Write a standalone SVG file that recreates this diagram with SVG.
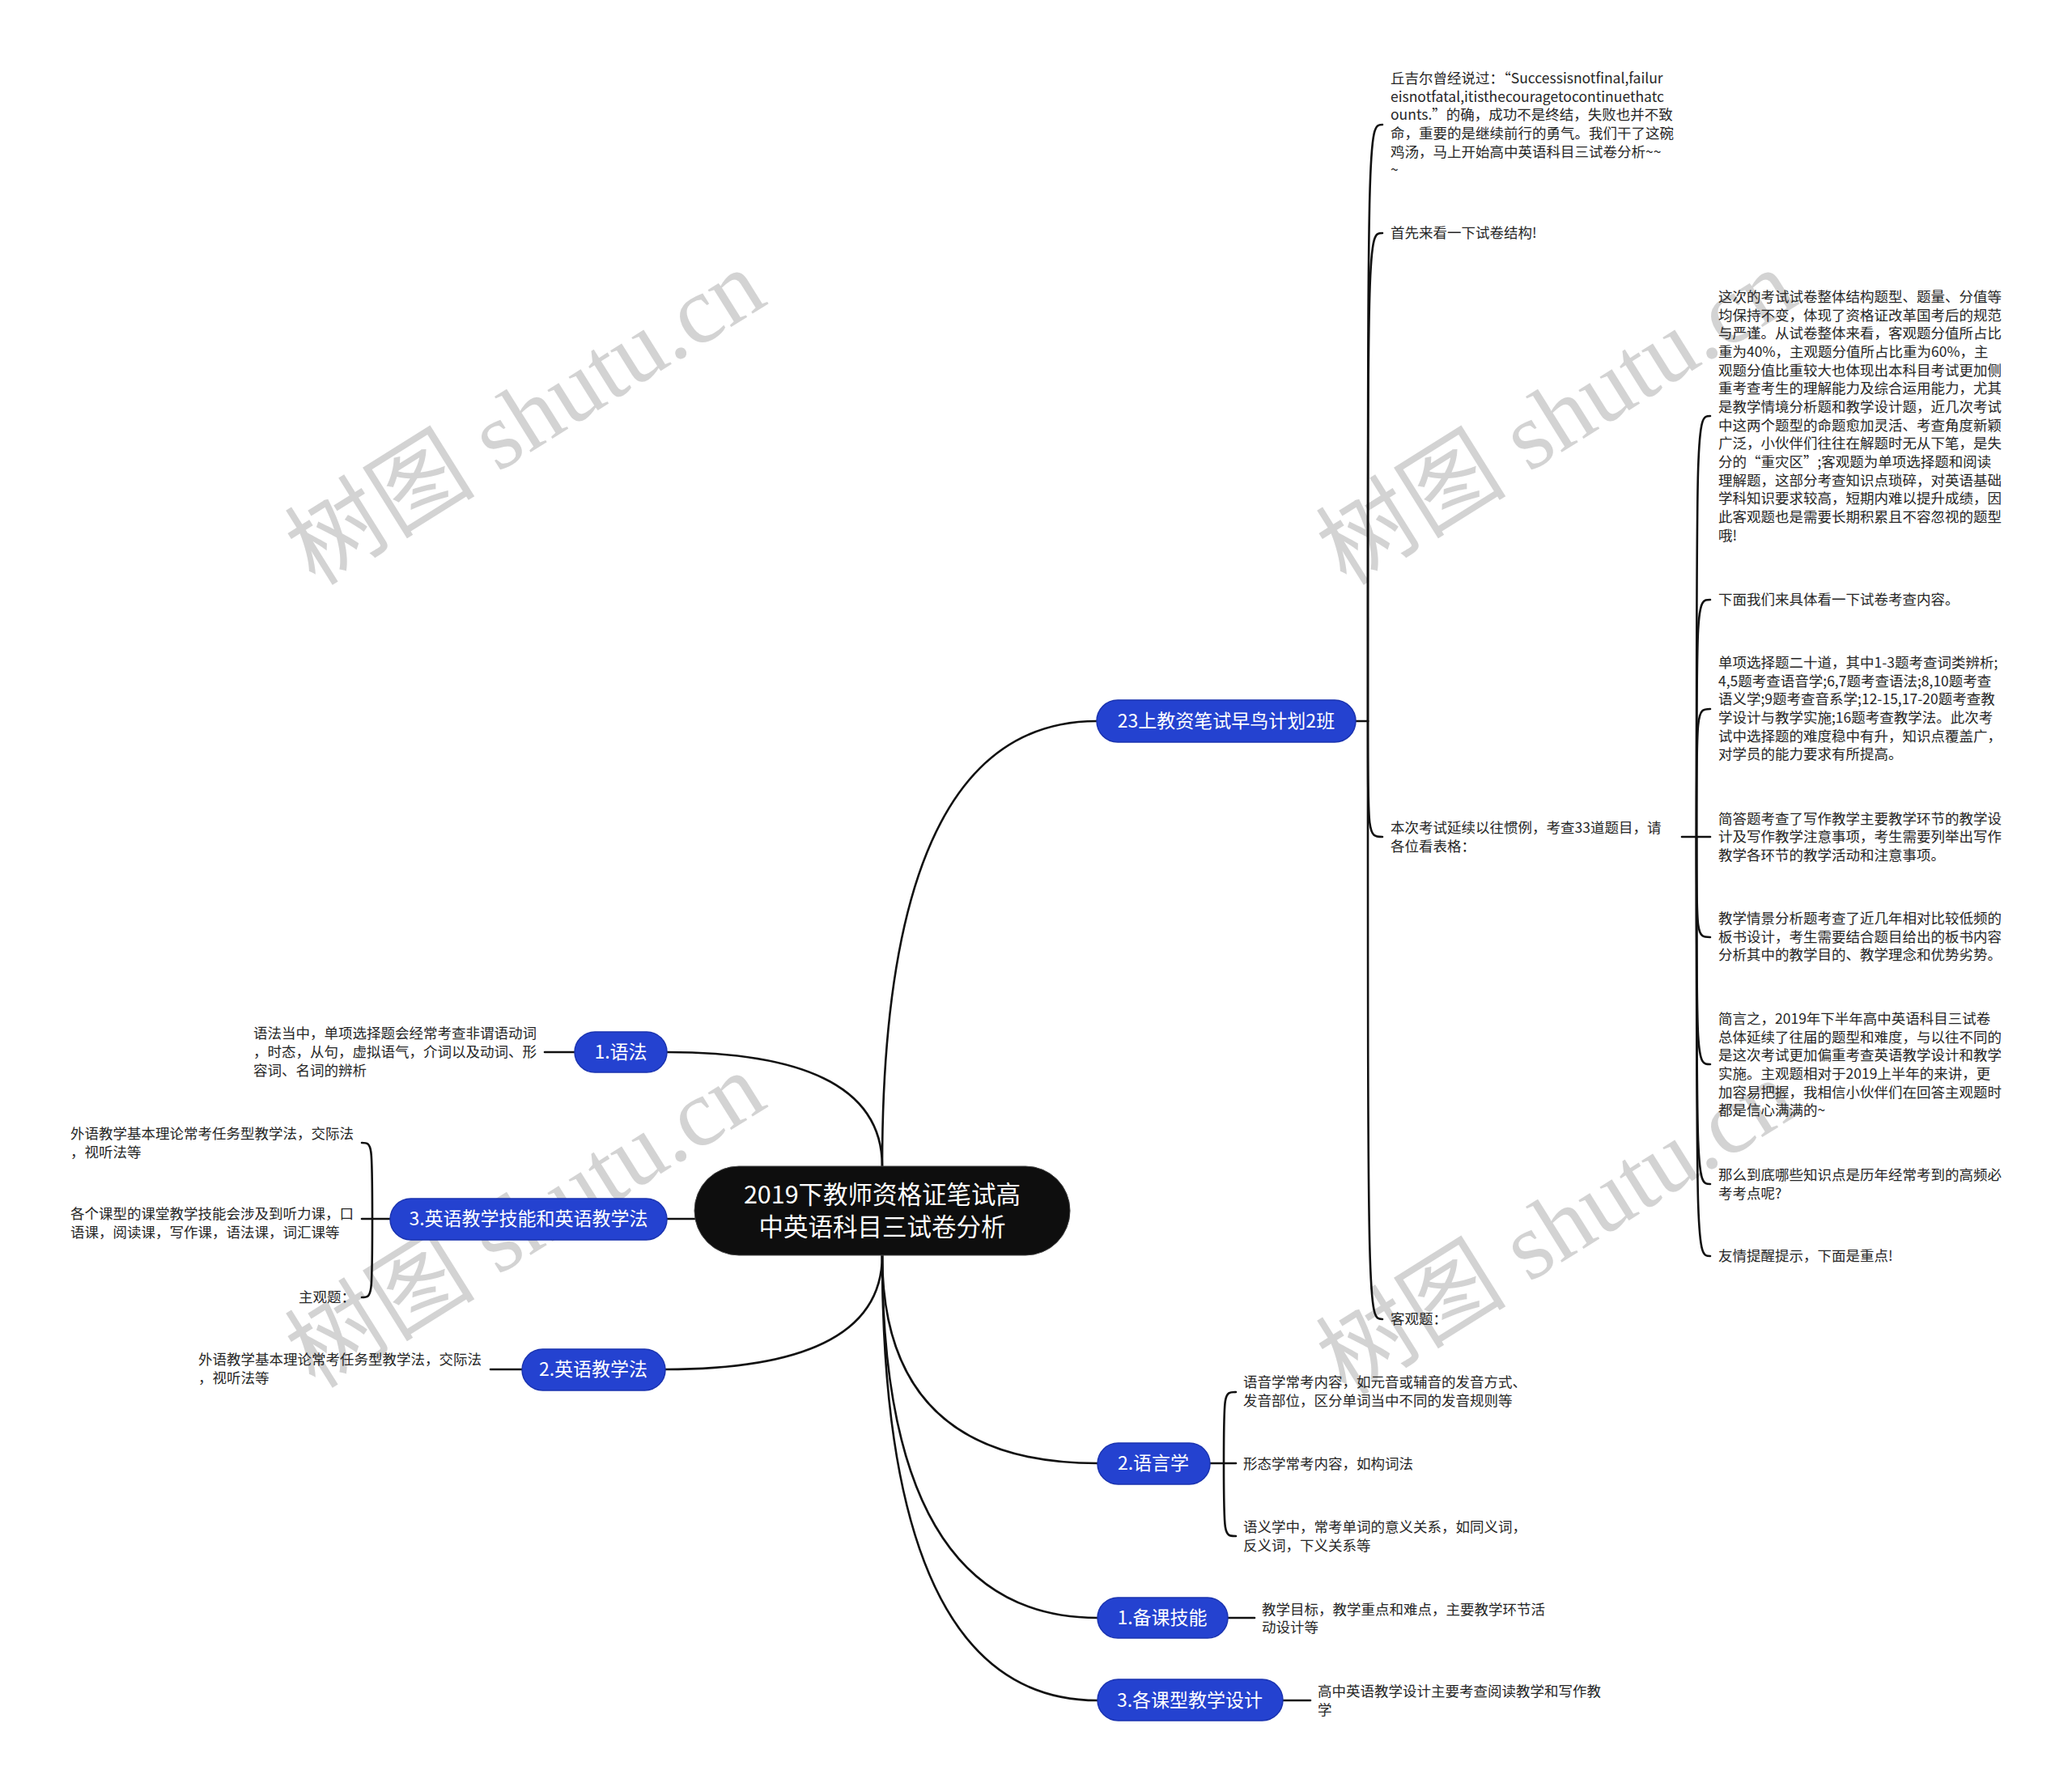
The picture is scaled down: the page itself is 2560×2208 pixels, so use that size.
<svg xmlns="http://www.w3.org/2000/svg" width="2560" height="2208" viewBox="0 0 2560 2208">
<style>
.wm{font-family:"Liberation Serif","Noto Sans CJK SC",serif;font-size:118px;fill:#c9c9c9;opacity:0.8;text-anchor:middle}
.t{font-family:"Noto Sans CJK SC","Noto Sans",sans-serif;font-size:17.5px;fill:#262626}
.n{font-family:"Noto Sans CJK SC","Noto Sans",sans-serif;font-size:23px;fill:#ffffff;text-anchor:middle}
.c{font-family:"Noto Sans CJK SC","Noto Sans",sans-serif;font-size:30.5px;fill:#ffffff;text-anchor:middle}
.box{fill:#2442d0;stroke:#1a33b0;stroke-width:1.5}
.root{fill:#0e0e0e;stroke:#444;stroke-width:1}
.ln{fill:none;stroke:#111;stroke-width:2.6;stroke-linecap:round}
</style>
<rect width="2560" height="2208" fill="#ffffff"/>
<g id="watermarks">
<text class="wm" x="648" y="556" transform="rotate(-32 648 514)">树图 shutu.cn</text>
<text class="wm" x="1922" y="556" transform="rotate(-32 1922 514)">树图 shutu.cn</text>
<text class="wm" x="648" y="1548" transform="rotate(-32 648 1506)">树图 shutu.cn</text>
<text class="wm" x="1922" y="1557" transform="rotate(-32 1922 1515)">树图 shutu.cn</text>
</g>
<g id="connectors">
<path class="ln" d="M1090 1496 V1441 Q1090 891 1355 891"/>
<path class="ln" d="M1090 1496 V1441 Q1090 1300 824 1300"/>
<path class="ln" d="M1090 1506 H824"/>
<path class="ln" d="M1090 1496 V1551 Q1090 1692 822 1692"/>
<path class="ln" d="M1090 1496 V1551 Q1090 1808 1356 1808"/>
<path class="ln" d="M1090 1496 V1551 Q1090 1999 1356 1999"/>
<path class="ln" d="M1090 1496 V1551 Q1090 2101 1356 2101"/>
<path class="ln" d="M710 1300 H673"/>
<path class="ln" d="M645 1692 H606"/>
<path class="ln" d="M1517 1999 H1550"/>
<path class="ln" d="M1585 2101 H1619"/>
<path class="ln" d="M1495 1808 H1527"/>
<path class="ln" d="M1512 1808 C1512 1720 1512 1720 1527 1720"/>
<path class="ln" d="M1512 1808 C1512 1898 1512 1898 1527 1898"/>
<path class="ln" d="M482 1506 H447"/>
<path class="ln" d="M460 1506 C460 1412 460 1412 447 1412"/>
<path class="ln" d="M460 1506 C460 1603 460 1603 447 1603"/>
<path class="ln" d="M1675 891 H1690"/>
<path class="ln" d="M1690 891 C1690 154 1690 154 1708 154"/>
<path class="ln" d="M1690 891 C1690 288 1690 288 1708 288"/>
<path class="ln" d="M1690 891 C1690 1034 1690 1034 1708 1034"/>
<path class="ln" d="M1690 891 C1690 1630 1690 1630 1708 1630"/>
<path class="ln" d="M2078 1034 H2113"/>
<path class="ln" d="M2096 1034 C2096 514 2096 514 2113 514"/>
<path class="ln" d="M2096 1034 C2096 741 2096 741 2113 741"/>
<path class="ln" d="M2096 1034 C2096 876 2096 876 2113 876"/>
<path class="ln" d="M2096 1034 C2096 1158 2096 1158 2113 1158"/>
<path class="ln" d="M2096 1034 C2096 1315 2096 1315 2113 1315"/>
<path class="ln" d="M2096 1034 C2096 1463 2096 1463 2113 1463"/>
<path class="ln" d="M2096 1034 C2096 1552 2096 1552 2113 1552"/>
</g>
<g id="root">
<rect class="root" x="858" y="1441" width="464" height="110" rx="55"/>
<text class="c" x="1090" y="1487">2019下教师资格证笔试高</text>
<text class="c" x="1090" y="1527">中英语科目三试卷分析</text>
</g>
<g id="n23">
<rect class="box" x="1355" y="865" width="320" height="52" rx="26"/>
<text class="n" x="1515" y="899">23上教资笔试早鸟计划2班</text>
</g>
<g id="t-qiu">
<text class="t" x="1718"><tspan x="1718" y="103">丘吉尔曾经说过：“Successisnotfinal,failur</tspan><tspan x="1718" y="126">eisnotfatal,itisthecouragetocontinuethatc</tspan><tspan x="1718" y="148">ounts.”的确，成功不是终结，失败也并不致</tspan><tspan x="1718" y="171">命，重要的是继续前行的勇气。我们干了这碗</tspan><tspan x="1718" y="194">鸡汤，马上开始高中英语科目三试卷分析~~</tspan><tspan x="1718" y="216">~</tspan></text>
</g>
<g id="t-shouxian"><text class="t" x="1718" y="294">首先来看一下试卷结构!</text></g>
<g id="t-benci">
<text class="t"><tspan x="1718" y="1029">本次考试延续以往惯例，考查33道题目，请</tspan><tspan x="1718" y="1052">各位看表格：</tspan></text>
</g>
<g id="t-keguan"><text class="t" x="1718" y="1636">客观题：</text></g>
<g id="t-zheci">
<text class="t"><tspan x="2123" y="373">这次的考试试卷整体结构题型、题量、分值等</tspan><tspan x="2123" y="396">均保持不变，体现了资格证改革国考后的规范</tspan><tspan x="2123" y="418">与严谨。从试卷整体来看，客观题分值所占比</tspan><tspan x="2123" y="441">重为40%，主观题分值所占比重为60%，主</tspan><tspan x="2123" y="464">观题分值比重较大也体现出本科目考试更加侧</tspan><tspan x="2123" y="486">重考查考生的理解能力及综合运用能力，尤其</tspan><tspan x="2123" y="509">是教学情境分析题和教学设计题，近几次考试</tspan><tspan x="2123" y="532">中这两个题型的命题愈加灵活、考查角度新颖</tspan><tspan x="2123" y="554">广泛，小伙伴们往往在解题时无从下笔，是失</tspan><tspan x="2123" y="577">分的“重灾区”;客观题为单项选择题和阅读</tspan><tspan x="2123" y="600">理解题，这部分考查知识点琐碎，对英语基础</tspan><tspan x="2123" y="622">学科知识要求较高，短期内难以提升成绩，因</tspan><tspan x="2123" y="645">此客观题也是需要长期积累且不容忽视的题型</tspan><tspan x="2123" y="668">哦!</tspan></text>
</g>
<g id="t-xiamian"><text class="t" x="2123" y="747">下面我们来具体看一下试卷考查内容。</text></g>
<g id="t-danxiang">
<text class="t"><tspan x="2123" y="825">单项选择题二十道，其中1-3题考查词类辨析;</tspan><tspan x="2123" y="848">4,5题考查语音学;6,7题考查语法;8,10题考查</tspan><tspan x="2123" y="870">语义学;9题考查音系学;12-15,17-20题考查教</tspan><tspan x="2123" y="893">学设计与教学实施;16题考查教学法。此次考</tspan><tspan x="2123" y="916">试中选择题的难度稳中有升，知识点覆盖广，</tspan><tspan x="2123" y="938">对学员的能力要求有所提高。</tspan></text>
</g>
<g id="t-jianda">
<text class="t"><tspan x="2123" y="1018">简答题考查了写作教学主要教学环节的教学设</tspan><tspan x="2123" y="1040">计及写作教学注意事项，考生需要列举出写作</tspan><tspan x="2123" y="1063">教学各环节的教学活动和注意事项。</tspan></text>
</g>
<g id="t-qingjing">
<text class="t"><tspan x="2123" y="1141">教学情景分析题考查了近几年相对比较低频的</tspan><tspan x="2123" y="1164">板书设计，考生需要结合题目给出的板书内容</tspan><tspan x="2123" y="1186">分析其中的教学目的、教学理念和优势劣势。</tspan></text>
</g>
<g id="t-jianyan">
<text class="t"><tspan x="2123" y="1265">简言之，2019年下半年高中英语科目三试卷</tspan><tspan x="2123" y="1288">总体延续了往届的题型和难度，与以往不同的</tspan><tspan x="2123" y="1310">是这次考试更加偏重考查英语教学设计和教学</tspan><tspan x="2123" y="1333">实施。主观题相对于2019上半年的来讲，更</tspan><tspan x="2123" y="1356">加容易把握，我相信小伙伴们在回答主观题时</tspan><tspan x="2123" y="1378">都是信心满满的~</tspan></text>
</g>
<g id="t-name"><text class="t"><tspan x="2123" y="1458">那么到底哪些知识点是历年经常考到的高频必</tspan><tspan x="2123" y="1481">考考点呢?</tspan></text></g>
<g id="t-youqing"><text class="t" x="2123" y="1558">友情提醒提示，下面是重点!</text></g>
<g id="n-yufa">
<rect class="box" x="710" y="1275" width="114" height="50" rx="25"/>
<text class="n" x="767" y="1308">1.语法</text>
</g>
<g id="t-yufa"><text class="t"><tspan x="313" y="1283">语法当中，单项选择题会经常考查非谓语动词</tspan><tspan x="313" y="1306">，时态，从句，虚拟语气，介词以及动词、形</tspan><tspan x="313" y="1329">容词、名词的辨析</tspan></text></g>
<g id="n-jineng">
<rect class="box" x="482" y="1481" width="342" height="51" rx="25.5"/>
<text class="n" x="653" y="1514">3.英语教学技能和英语教学法</text>
</g>
<g id="t-waiyu1"><text class="t"><tspan x="87" y="1407">外语教学基本理论常考任务型教学法，交际法</tspan><tspan x="87" y="1430">，视听法等</tspan></text></g>
<g id="t-kexing"><text class="t"><tspan x="87" y="1506">各个课型的课堂教学技能会涉及到听力课，口</tspan><tspan x="87" y="1529">语课，阅读课，写作课，语法课，词汇课等</tspan></text></g>
<g id="t-zhuguan"><text class="t" x="369" y="1609">主观题：</text></g>
<g id="n-jiaoxuefa">
<rect class="box" x="645" y="1667" width="177" height="51" rx="25.5"/>
<text class="n" x="733" y="1700">2.英语教学法</text>
</g>
<g id="t-waiyu2"><text class="t"><tspan x="245" y="1686">外语教学基本理论常考任务型教学法，交际法</tspan><tspan x="245" y="1709">，视听法等</tspan></text></g>
<g id="n-yuyan">
<rect class="box" x="1356" y="1783" width="139" height="51" rx="25.5"/>
<text class="n" x="1425" y="1816">2.语言学</text>
</g>
<g id="t-yuyin"><text class="t"><tspan x="1536" y="1714">语音学常考内容，如元音或辅音的发音方式、</tspan><tspan x="1536" y="1737">发音部位，区分单词当中不同的发音规则等</tspan></text></g>
<g id="t-xingtai"><text class="t" x="1536" y="1815">形态学常考内容，如构词法</text></g>
<g id="t-yuyi"><text class="t"><tspan x="1536" y="1893">语义学中，常考单词的意义关系，如同义词，</tspan><tspan x="1536" y="1916">反义词，下义关系等</tspan></text></g>
<g id="n-beike">
<rect class="box" x="1356" y="1974" width="161" height="50" rx="25"/>
<text class="n" x="1436" y="2007">1.备课技能</text>
</g>
<g id="t-beike"><text class="t"><tspan x="1559" y="1995">教学目标，教学重点和难点，主要教学环节活</tspan><tspan x="1559" y="2017">动设计等</tspan></text></g>
<g id="n-sheji">
<rect class="box" x="1356" y="2075" width="229" height="51" rx="25.5"/>
<text class="n" x="1470" y="2109">3.各课型教学设计</text>
</g>
<g id="t-sheji"><text class="t"><tspan x="1628" y="2096">高中英语教学设计主要考查阅读教学和写作教</tspan><tspan x="1628" y="2119">学</tspan></text></g>
</svg>
